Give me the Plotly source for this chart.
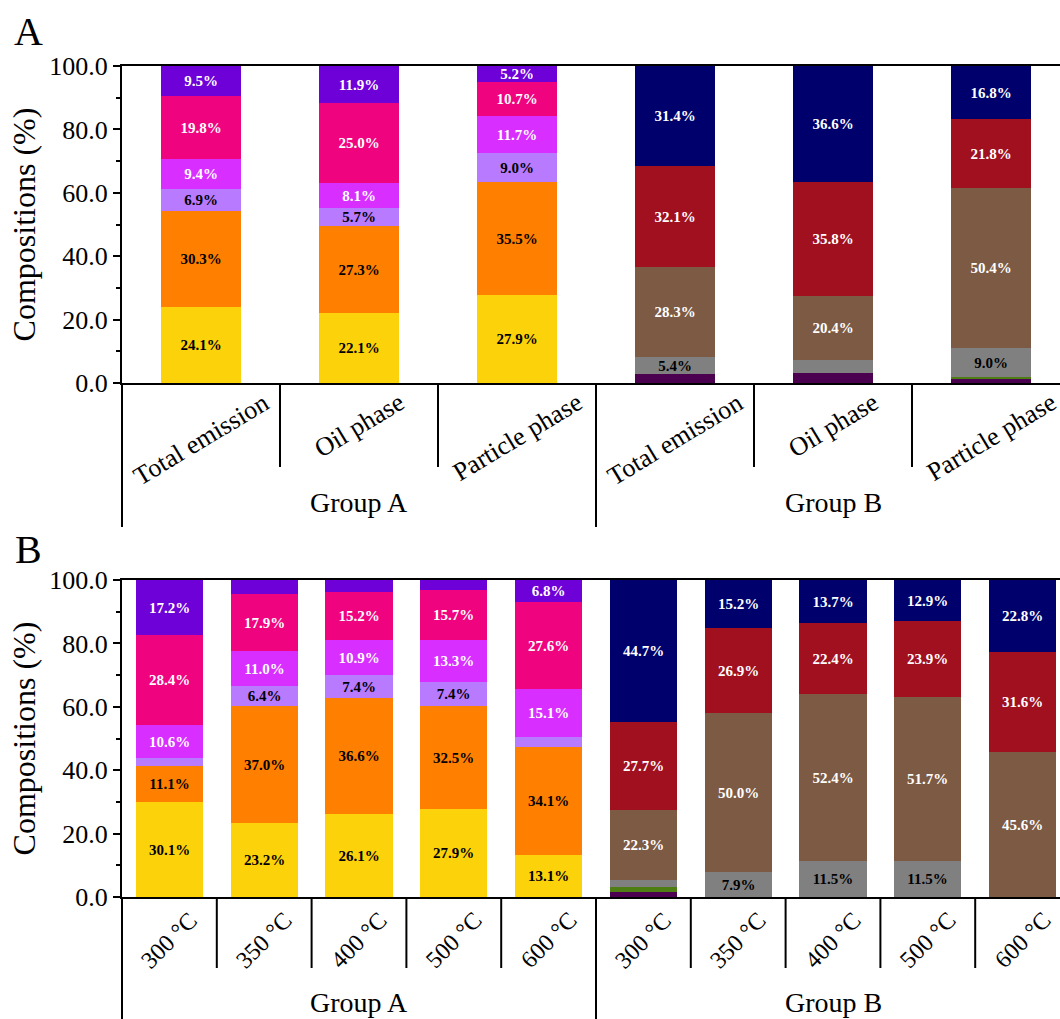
import plotly.graph_objects as go

W, H = 1060, 1019

# ---------------- data ----------------
groups = ["Group A", "Group B"]
cats_a = ["Total emission", "Oil phase", "Particle phase",
          "Total emission", "Oil phase", "Particle phase"]
cats_b = ["300 °C", "350 °C", "400 °C", "500 °C", "600 °C",
          "300 °C", "350 °C", "400 °C", "500 °C", "600 °C"]

series_names = ["S1", "S2", "S3", "S4", "S5", "S6",
                "S7", "S8", "S9", "S10", "S11", "S12"]
series_colors = ["#FCD20A", "#FF7F00", "#B87AFF", "#D82EFF", "#F0037F", "#6E00D8",
                 "#4B0050", "#4E7D14", "#808080", "#7D5A43", "#A0101F", "#00006C"]
label_colors = ["black", "black", "black", "white", "white", "white",
                "white", "white", "black", "white", "white", "white"]

# Panel A (6 bars: Group A x3, Group B x3)
yellow_a   = [24.1, 22.1, 27.9, 0, 0, 0]
orange_a   = [30.3, 27.3, 35.5, 0, 0, 0]
lavender_a = [6.9, 5.7, 9.0, 0, 0, 0]
magenta_a  = [9.4, 8.1, 11.7, 0, 0, 0]
pink_a     = [19.8, 25.0, 10.7, 0, 0, 0]
violet_a   = [9.5, 11.9, 5.2, 0, 0, 0]
dpurple_a  = [0, 0, 0, 2.8, 3.1, 1.5]
green_a    = [0, 0, 0, 0, 0, 0.5]
gray_a     = [0, 0, 0, 5.4, 4.1, 9.0]
brown_a    = [0, 0, 0, 28.3, 20.4, 50.4]
red_a      = [0, 0, 0, 32.1, 35.8, 21.8]
navy_a     = [0, 0, 0, 31.4, 36.6, 16.8]

# Panel B (10 bars: Group A x5, Group B x5)
yellow_b   = [30.1, 23.2, 26.1, 27.9, 13.1, 0, 0, 0, 0, 0]
orange_b   = [11.1, 37.0, 36.6, 32.5, 34.1, 0, 0, 0, 0, 0]
lavender_b = [2.6, 6.4, 7.4, 7.4, 3.3, 0, 0, 0, 0, 0]
magenta_b  = [10.6, 11.0, 10.9, 13.3, 15.1, 0, 0, 0, 0, 0]
pink_b     = [28.4, 17.9, 15.2, 15.7, 27.6, 0, 0, 0, 0, 0]
violet_b   = [17.2, 4.5, 3.8, 3.2, 6.8, 0, 0, 0, 0, 0]
dpurple_b  = [0, 0, 0, 0, 0, 1.5, 0, 0, 0, 0]
green_b    = [0, 0, 0, 0, 0, 1.5, 0, 0, 0, 0]
gray_b     = [0, 0, 0, 0, 0, 2.3, 7.9, 11.5, 11.5, 0]
brown_b    = [0, 0, 0, 0, 0, 22.3, 50.0, 52.4, 51.7, 45.6]
red_b      = [0, 0, 0, 0, 0, 27.7, 26.9, 22.4, 23.9, 31.6]
navy_b     = [0, 0, 0, 0, 0, 44.7, 15.2, 13.7, 12.9, 22.8]

yticks = [0, 20, 40, 60, 80, 100]

series_a = [yellow_a, orange_a, lavender_a, magenta_a, pink_a, violet_a,
            dpurple_a, green_a, gray_a, brown_a, red_a, navy_a]
series_b = [yellow_b, orange_b, lavender_b, magenta_b, pink_b, violet_b,
            dpurple_b, green_b, gray_b, brown_b, red_b, navy_b]

FONT = "Liberation Serif"
LABEL_MIN = 5.0


def ypx(p):
    return 1 - p / H


fig = go.Figure()


def add_panel(series, n, xa, ya, width):
    xs = list(range(n))
    for name, vals, col, tcol in zip(series_names, series, series_colors, label_colors):
        fig.add_trace(go.Bar(
            x=xs, y=[v if v > 0 else None for v in vals],
            name=name, marker=dict(color=col, line=dict(width=0)),
            width=width, xaxis=xa, yaxis=ya,
            text=[f"{v:.1f}%" if v >= LABEL_MIN else "" for v in vals],
            textposition="inside", insidetextanchor="middle", textangle=0,
            textfont=dict(family=FONT, size=15, color=tcol, weight="bold"),
            showlegend=False, hoverinfo="skip",
        ))


add_panel(series_a, len(cats_a), "x", "y", 0.506)
add_panel(series_b, len(cats_b), "x2", "y2", 0.71)

# plot areas (pixels)
A_top, A_bot = 66, 383
B_top, B_bot = 580, 897
x_left = 122
unit_a = 158.0
unit_b = 94.8

axis_common = dict(showline=True, linecolor="black", linewidth=2, showgrid=False,
                   zeroline=False, automargin=False)
yaxis_common = dict(axis_common, range=[0, 100], tickvals=yticks, tickformat=".1f",
                    ticks="outside", ticklen=7, tickwidth=1.5, tickcolor="black",
                    minor=dict(dtick=10, ticks="outside", ticklen=4, tickwidth=1.5,
                               tickcolor="black"),
                    tickfont=dict(family=FONT, size=26, color="black"),
                    title=dict(text="Compositions (%)", standoff=4,
                               font=dict(family=FONT, size=32, color="black")))

fig.update_layout(
    width=W, height=H, margin=dict(l=0, r=0, t=0, b=0, autoexpand=False),
    plot_bgcolor="white", paper_bgcolor="white",
    barmode="stack", bargap=0,
    uniformtext=dict(minsize=15, mode="show"),
    xaxis=dict(axis_common, domain=[x_left / W, 1], anchor="y", mirror=True, ticks="",
               showticklabels=False,
               range=[-0.5, -0.5 + (W - x_left) / unit_a]),
    yaxis=dict(yaxis_common, domain=[ypx(A_bot), ypx(A_top)], anchor="x"),
    xaxis2=dict(axis_common, domain=[x_left / W, 1], anchor="y2", mirror=True, ticks="",
                showticklabels=False,
                range=[-0.5, -0.5 + (W - x_left) / unit_b]),
    yaxis2=dict(yaxis_common, domain=[ypx(B_bot), ypx(B_top)], anchor="x2"),
)

annotations = []
shapes = []

# category labels
for i, c in enumerate(cats_a):
    annotations.append(dict(x=i, xref="x", y=ypx(385), yref="paper", text=c,
                            showarrow=False, textangle=-31, xanchor="center",
                            yanchor="top",
                            font=dict(family=FONT, size=26, color="black")))
for i, c in enumerate(cats_b):
    annotations.append(dict(x=i, xref="x2", y=ypx(904), yref="paper", text=c,
                            showarrow=False, textangle=-45, xanchor="center",
                            yanchor="top",
                            font=dict(family=FONT, size=24, color="black")))

# group labels
for g, gname in enumerate(groups):
    annotations.append(dict(x=1 + 3 * g, xref="x", y=ypx(503), yref="paper",
                            text=gname, showarrow=False, xanchor="center",
                            yanchor="middle",
                            font=dict(family=FONT, size=28, color="black")))
    annotations.append(dict(x=2 + 5 * g, xref="x2", y=ypx(1002), yref="paper",
                            text=gname, showarrow=False, xanchor="center",
                            yanchor="middle",
                            font=dict(family=FONT, size=28, color="black")))

# panel letters
annotations.append(dict(x=28 / W, y=ypx(31), xref="paper", yref="paper", text="A",
                        showarrow=False, xanchor="center", yanchor="middle",
                        font=dict(family=FONT, size=40, color="black")))
annotations.append(dict(x=28 / W, y=ypx(549), xref="paper", yref="paper", text="B",
                        showarrow=False, xanchor="center", yanchor="middle",
                        font=dict(family=FONT, size=40, color="black")))

# separators under the category axis
line = dict(color="black", width=2)
for b in range(1, len(cats_a)):
    long = (b == 3)
    shapes.append(dict(type="line", xref="x", yref="paper", x0=b - 0.5, x1=b - 0.5,
                       y0=ypx(A_bot), y1=ypx(527 if long else 467), line=line))
shapes.append(dict(type="line", xref="x domain", yref="paper", x0=0, x1=0,
                   y0=ypx(A_bot), y1=ypx(527), line=line))
for b in range(1, len(cats_b)):
    long = (b == 5)
    shapes.append(dict(type="line", xref="x2", yref="paper", x0=b - 0.5, x1=b - 0.5,
                       y0=ypx(B_bot), y1=ypx(1019 if long else 968), line=line))
shapes.append(dict(type="line", xref="x2 domain", yref="paper", x0=0, x1=0,
                   y0=ypx(B_bot), y1=0, line=line))

fig.update_layout(annotations=annotations, shapes=shapes)

fig.write_html("out.html", config={"displayModeBar": False},
               post_script="document.body.style.margin='0';")
